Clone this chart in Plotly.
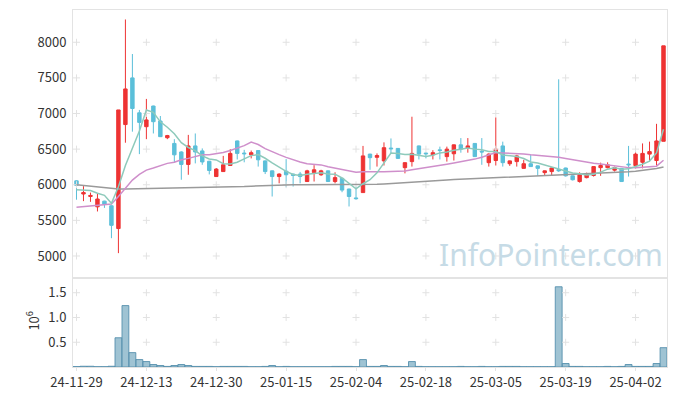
import plotly.graph_objects as go
import pandas as pd

tick_labels = ["24-11-29", "24-12-13", "24-12-30", "25-01-15", "25-02-04",
               "25-02-18", "25-03-05", "25-03-19", "25-04-02"]

opens = [6055, 5870, 5835, 5690, 5770, 5705, 5385, 6845, 7500, 7010,
         6815, 7105, 6895, 6660, 6580, 6460, 6285, 6545, 6475, 6330,
         6115, 6185, 6270, 6615, 6445, 6420, 6480, 6335, 6195, 6115,
         6190, 6150, 6150, 6045, 6170, 6140, 6195, 6045, 6090, 5940,
         5815, 5890, 6430, 6385, 6335, 6515, 6510, 6240, 6325, 6545,
         6445, 6420, 6490, 6395, 6435, 6560, 6510, 6580, 6470, 6310,
         6340, 6545, 6295, 6325, 6230, 6295, 6265, 6170, 6185, 6215,
         6235, 6125, 6045, 6100, 6130, 6240, 6240, 6205, 6230, 6290,
         6270, 6315, 6430, 6340, 6610]
highs = [6060, 5980, 5890, 5870, 5775, 5710, 7050, 8320, 7835, 7050,
         7205, 7110, 6965, 6700, 6640, 6470, 6700, 6720, 6510, 6335,
         6235, 6405, 6500, 6620, 6490, 6480, 6485, 6340, 6200, 6160,
         6360, 6155, 6180, 6210, 6275, 6210, 6200, 6175, 6095, 5945,
         5975, 6545, 6435, 6440, 6595, 6650, 6515, 6315, 6955, 6550,
         6455, 6485, 6535, 6535, 6565, 6655, 6655, 6585, 6655, 6440,
         6945, 6605, 6340, 6420, 6350, 6420, 6270, 6200, 6240, 7480,
         6240, 6130, 6175, 6170, 6260, 6310, 6315, 6255, 6235, 6545,
         6465, 6580, 6605, 6855, 7950]
lows = [5790, 5770, 5760, 5625, 5675, 5250, 5040, 6590, 6745, 6430,
        6640, 6720, 6670, 6640, 6310, 6070, 6140, 6300, 6280, 6145,
        6110, 6180, 6265, 6355, 6315, 6370, 6255, 6150, 5835, 6020,
        5965, 5975, 6020, 6045, 6045, 6125, 6040, 6020, 5895, 5695,
        5790, 5890, 6210, 6255, 6270, 6440, 6365, 6160, 6255, 6355,
        6370, 6355, 6355, 6325, 6340, 6450, 6450, 6390, 6280, 6255,
        6270, 6255, 6265, 6255, 6225, 6250, 6125, 6125, 6125, 6180,
        6115, 6060, 6030, 6090, 6115, 6125, 6230, 6185, 6040, 6115,
        6230, 6230, 6325, 6270, 6610]
closes = [5990, 5890, 5850, 5800, 5730, 5430, 7050, 7345, 7070, 6875,
          6910, 6885, 6675, 6690, 6420, 6285, 6545, 6460, 6320, 6200,
          6220, 6280, 6440, 6440, 6435, 6450, 6350, 6185, 6115, 6150,
          6140, 6130, 6115, 6195, 6210, 6195, 6045, 6100, 5925, 5835,
          5805, 6405, 6380, 6410, 6520, 6505, 6370, 6310, 6440, 6430,
          6435, 6450, 6480, 6500, 6560, 6500, 6545, 6395, 6460, 6430,
          6500, 6310, 6335, 6405, 6295, 6255, 6230, 6195, 6235, 6195,
          6125, 6070, 6140, 6150, 6255, 6270, 6280, 6240, 6045, 6280,
          6430, 6440, 6465, 6615, 7950]
volumes = [8000, 15000, 15000, 6000, 6000, 15000, 590000, 1240000, 290000, 150000,
           110000, 50000, 30000, 12000, 30000, 50000, 30000, 12000, 12000, 12000,
           6000, 12000, 12000, 12000, 12000, 6000, 6000, 12000, 30000, 6000,
           12000, 6000, 6000, 6000, 6000, 6000, 6000, 12000, 12000, 12000,
           6000, 150000, 12000, 12000, 30000, 12000, 12000, 6000, 110000, 12000,
           6000, 6000, 6000, 6000, 6000, 12000, 6000, 6000, 12000, 6000,
           6000, 12000, 12000, 12000, 6000, 6000, 6000, 6000, 6000, 1620000,
           70000, 12000, 12000, 6000, 6000, 6000, 12000, 6000, 12000, 50000,
           12000, 12000, 12000, 70000, 390000]
# moving-average values before enough history is visible
ma5_head = [5930, 5925, 5920, 5880]
ma20_head = [5685, 5695, 5700, 5710, 5720, 5730, 5835, 5950, 6065, 6145,
             6205, 6235, 6265, 6300, 6315, 6350, 6370, 6395, 6420]
ma_long = [6000, 5990, 5975, 5960, 5950, 5940, 5940, 5940, 5942, 5943,
           5945, 5945, 5945, 5947, 5948, 5950, 5952, 5953, 5955, 5957,
           5958, 5960, 5962, 5970, 5975, 5980, 5985, 5990, 5993, 5996,
           5998, 6000, 6000, 6000, 6000, 6000, 6000, 6000, 6000, 6000,
           6000, 6002, 6005, 6008, 6012, 6017, 6022, 6028, 6035, 6042,
           6048, 6055, 6060, 6066, 6072, 6076, 6080, 6084, 6088, 6092,
           6096, 6100, 6104, 6108, 6112, 6116, 6120, 6124, 6128, 6132,
           6136, 6140, 6145, 6150, 6155, 6160, 6165, 6170, 6175, 6182,
           6190, 6200, 6212, 6228, 6250]

n = len(closes)
idx = list(range(n))
cs = pd.Series(closes, dtype=float)
ma5 = cs.rolling(5).mean().tolist()
ma5[:len(ma5_head)] = ma5_head
ma20 = cs.rolling(20).mean().tolist()
ma20[:len(ma20_head)] = ma20_head

tickvals = [i * 10 for i in range(len(tick_labels))]
price_ticks = [5000, 5500, 6000, 6500, 7000, 7500, 8000]
vol_ticks = [500000, 1000000, 1500000]

FONT = "Noto Sans CJK KR, Noto Sans, sans-serif"
RED = "#ee3333"
BLUE = "#5bbfd9"
BORDER = "#e3e3e3"
CROSS = "#e2e2e2"

fig = go.Figure()

# grid "+" marks
gx, gy = [], []
for tv in tickvals:
    for pv in price_ticks:
        gx.append(tv); gy.append(pv)
fig.add_trace(go.Scatter(x=gx, y=gy, mode="markers", xaxis="x", yaxis="y",
                         marker=dict(symbol="cross-thin", size=5,
                                     line=dict(color=CROSS, width=1)),
                         hoverinfo="skip", showlegend=False))
gx2, gy2 = [], []
for tv in tickvals:
    for vv in vol_ticks:
        gx2.append(tv); gy2.append(vv)
fig.add_trace(go.Scatter(x=gx2, y=gy2, mode="markers", xaxis="x2", yaxis="y2",
                         marker=dict(symbol="cross-thin", size=5,
                                     line=dict(color=CROSS, width=1)),
                         hoverinfo="skip", showlegend=False))

fig.add_trace(go.Scatter(x=idx, y=ma_long, mode="lines", xaxis="x", yaxis="y",
                         line=dict(color="#9a9a9a", width=1.5), showlegend=False))
fig.add_trace(go.Scatter(x=idx, y=ma20, mode="lines", xaxis="x", yaxis="y",
                         line=dict(color="#cf8fcb", width=1.5), showlegend=False))
fig.add_trace(go.Scatter(x=idx, y=ma5, mode="lines", xaxis="x", yaxis="y",
                         line=dict(color="#8ecabb", width=1.5), showlegend=False))

fig.add_trace(go.Candlestick(x=idx, open=opens, high=highs, low=lows, close=closes,
                             xaxis="x", yaxis="y",
                             increasing=dict(line=dict(color=RED, width=1), fillcolor=RED),
                             decreasing=dict(line=dict(color=BLUE, width=1), fillcolor=BLUE),
                             whiskerwidth=0, showlegend=False))

fig.add_trace(go.Bar(x=idx, y=volumes, xaxis="x2", yaxis="y2",
                     marker=dict(color="rgba(135,180,200,0.8)",
                                 line=dict(color="rgba(80,140,170,0.85)", width=1)),
                     showlegend=False))

split = 89 / 357
# the page body has an 8px default margin; offset the figure margins to compensate
fig.update_layout(
    width=677, height=396,
    margin=dict(l=65, r=18, t=2, b=37),
    paper_bgcolor="white", plot_bgcolor="white",
    font=dict(family=FONT, size=13, color="#333"),
    bargap=0.02,
    xaxis=dict(domain=[0, 1], anchor="y", range=[-0.5, 84.5], showticklabels=False,
               showgrid=False, zeroline=False, showline=True, mirror=True,
               linecolor=BORDER, rangeslider=dict(visible=False),
               tickvals=tickvals, ticks="", automargin=False),
    yaxis=dict(domain=[split, 1], anchor="x", range=[4691, 8453], tickvals=price_ticks,
               showgrid=False, zeroline=False, showline=True, mirror=True,
               linecolor=BORDER, ticks="outside", ticklen=3, tickcolor="white",
               automargin=False),
    xaxis2=dict(domain=[0, 1], anchor="y2", range=[-0.5, 84.5], tickvals=tickvals,
                ticktext=tick_labels, showgrid=False, zeroline=False, showline=True,
                mirror=True, linecolor=BORDER, ticks="outside", ticklen=3,
                tickcolor=BORDER, matches="x", automargin=False),
    yaxis2=dict(domain=[0, split], anchor="x2", range=[0, 1797000], tickvals=vol_ticks,
                ticktext=["0.5", "1.0", "1.5"], showgrid=False, zeroline=False,
                showline=True, mirror=True, linecolor=BORDER, ticks="outside",
                ticklen=3, tickcolor="white", automargin=False),
    annotations=[
        dict(text="InfoPointer.com", xref="paper", yref="paper", x=0.8045, y=0.314,
             xanchor="center", yanchor="middle", showarrow=False,
             font=dict(family="Noto Sans, sans-serif", size=30, color="#c6dbe6")),
        dict(text="10<sup>6</sup>", xref="paper", yref="paper", x=-0.069, y=0.13,
             xanchor="center", yanchor="middle", showarrow=False, textangle=-90,
             font=dict(family=FONT, size=13, color="#333")),
    ],
)

fig.write_html("out.html")
